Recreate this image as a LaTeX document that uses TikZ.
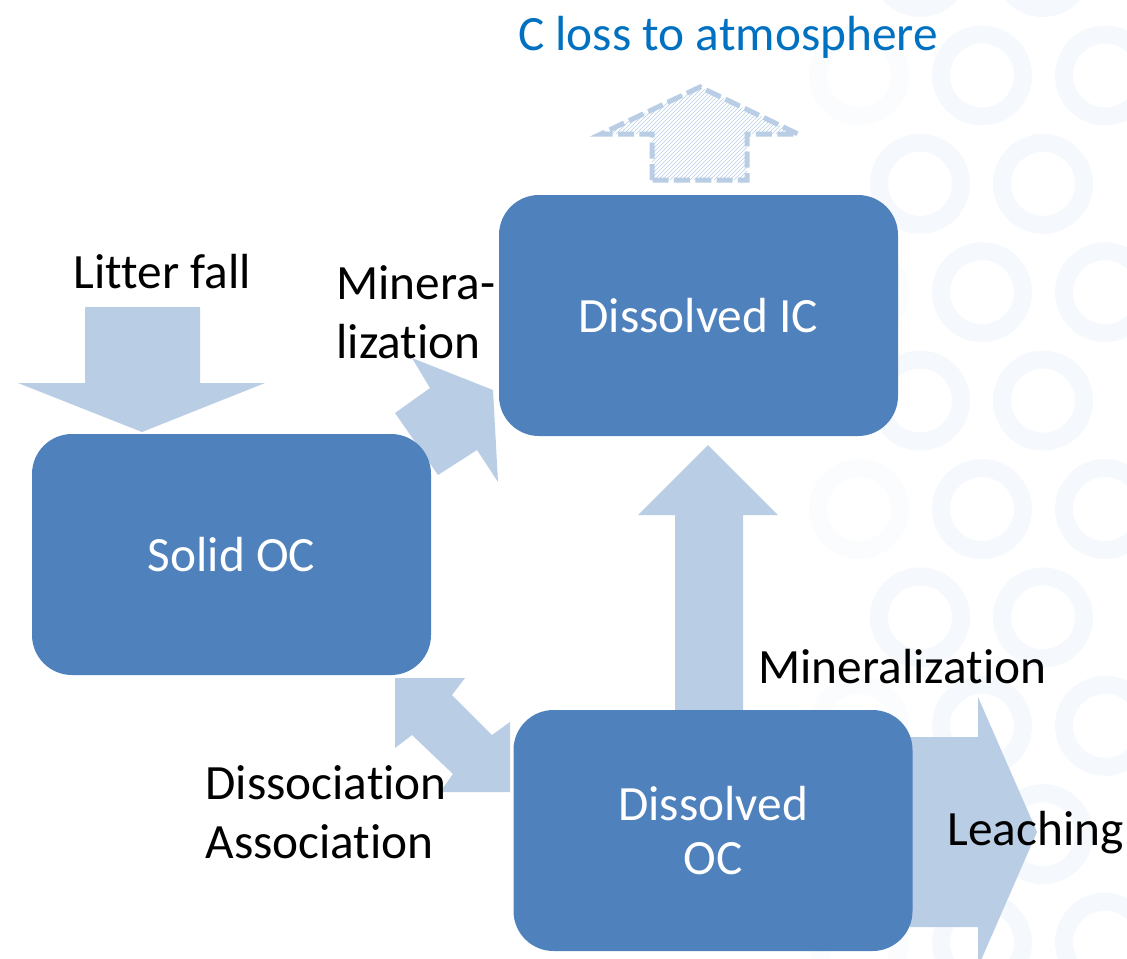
\documentclass[tikz,border=0pt]{standalone}
\usepackage{fontspec}
\setmainfont{Carlito}[Ligatures=NoCommon]
\usetikzlibrary{patterns}

\definecolor{boxblue}{RGB}{79,129,189}
\definecolor{flowblue}{RGB}{185,205,229}
\definecolor{lossblue}{RGB}{0,112,192}
\definecolor{ringtint}{RGB}{245,248,252}
\definecolor{ringfaint}{RGB}{250,252,254}

\tikzset{every picture/.style={line width=0.75pt}}
\tikzset{
  pool/.style={fill=boxblue, rounded corners=30pt, text=white, align=center,
    minimum width=299.25pt, minimum height=180.75pt, inner sep=0pt,
    font=\fontsize{37}{40}\selectfont},
  flow/.style={fill=flowblue, draw=none},
  lbl/.style={inner sep=0pt, align=left, font=\fontsize{37}{44.25}\selectfont},
  ring/.style={draw=ringtint, line width=13.5pt},
}

\begin{document}
\begin{tikzpicture}[x=0.75pt,y=0.75pt,yscale=-1,xscale=1]
		\clip (0,0) rectangle (1127,958);
		%Background: rings
		\foreach \j in {0,...,9}{
			\pgfmathsetmacro{\yy}{-33+108.4*\j}
			\ifodd\j
				\draw [ring, draw=ringfaint] (859,\yy) circle (41);
				\draw [ring] (982,\yy) circle (41);
				\draw [ring] (1105,\yy) circle (41);
			\else
				\draw [ring] (920,\yy) circle (41);
				\draw [ring] (1043,\yy) circle (41);
			\fi
		}
		
		%Shape: Down Arrow [litter fall]
		\draw [flow] (85,307) -- (200,307) -- (200,383) -- (265,383) -- (142,432) -- (18,383) -- (85,383) -- cycle ;
		%Shape: Right Arrow [mineralization of solid OC]
		\draw [flow] (395,413) -- (430,388) -- (412,358) -- (493,390) -- (498,482) -- (477,450) -- (438,475) -- cycle ;
		%Shape: Left-Right Arrow [dissociation / association]
		\draw [flow] (395,678) -- (465,678) -- (452,695) -- (492,735) -- (510,722) -- (510,792) -- (440,792) -- (453,774) -- (412,735) -- (395,748) -- cycle ;
		%Shape: Up Arrow [mineralization of DOC]
		\draw [flow] (675,715) -- (675,515) -- (638,515) -- (708,445) -- (778,515) -- (743,515) -- (743,715) -- cycle ;
		%Shape: Right Arrow [leaching]
		\draw [flow] (910,737) -- (978,737) -- (978,697) -- (1037,832) -- (978,967) -- (978,927) -- (910,927) -- cycle ;
		%Shape: Up Arrow [C loss]
		\draw [pattern=north east lines, pattern color=flowblue, draw=flowblue, line width=3.75pt, dash pattern={on 12pt off 4pt}, line join=miter]
			(652,180) -- (652,134) -- (601,134) -- (700,87) -- (798,134) -- (747,134) -- (747,180) -- cycle ;
		
		%Shape: Rounded Rectangles
		\node [pool] (dic) at (698.5,315.5) {Dissolved IC};
		\node [pool] (soc) at (231.5,554.5) {Solid OC};
		\node [pool] (doc) at (713,830.5) {Dissolved\\OC};
		
		% Text Node
		\node [lbl, anchor=base, text=lossblue] (loss) at (728,50) {C loss to atmosphere};
		% Text Node
		\node [lbl, anchor=base] (litter) at (162.5,288) {Litter fall};
		% Text Node
		\node [lbl, anchor=base west] (minsoc) at (336,358) {Minera-\\lization};
		% Text Node
		\node [lbl, anchor=base west] (mindoc) at (758,683) {Mineralization};
		% Text Node
		\node [lbl, anchor=base west] (assoc) at (205,858) {Dissociation\\Association};
		% Text Node
		\node [lbl, anchor=base west] (leach) at (947,845) {Leaching};
		
\end{tikzpicture}
\end{document}
